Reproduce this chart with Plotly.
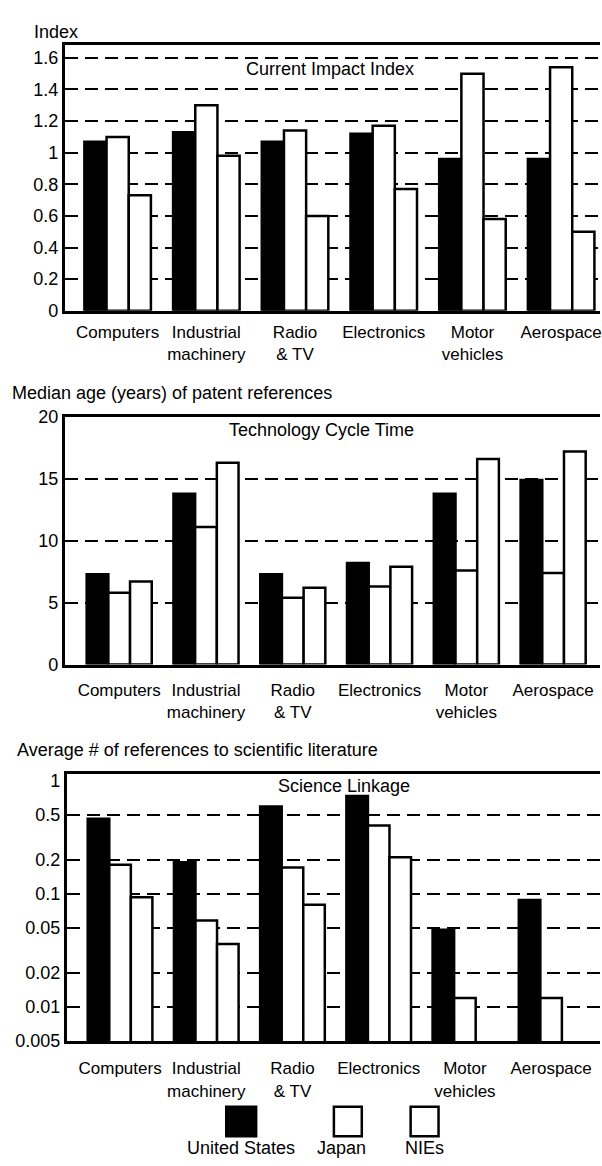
import math
import plotly.graph_objects as go

# ---- data -------------------------------------------------------------
categories = ["Computers", "Industrial machinery", "Radio & TV",
              "Electronics", "Motor vehicles", "Aerospace"]
category_labels = ["Computers", "Industrial<br>machinery", "Radio<br>& TV",
                   "Electronics", "Motor<br>vehicles", "Aerospace"]
series_names = ["United States", "Japan", "NIEs"]

# Current Impact Index
impact_us = [1.07, 1.13, 1.07, 1.12, 0.96, 0.96]
impact_japan = [1.10, 1.30, 1.14, 1.17, 1.50, 1.54]
impact_nies = [0.73, 0.98, 0.60, 0.77, 0.58, 0.50]

# Technology Cycle Time (median age in years of patent references)
cycle_us = [7.3, 13.8, 7.3, 8.2, 13.8, 14.9]
cycle_japan = [5.8, 11.1, 5.4, 6.3, 7.6, 7.4]
cycle_nies = [6.7, 16.3, 6.2, 7.9, 16.6, 17.2]

# Science Linkage (average number of references to scientific literature)
linkage_us = [0.46, 0.19, 0.59, 0.73, 0.048, 0.088]
linkage_japan = [0.18, 0.058, 0.17, 0.40, 0.012, 0.012]
linkage_nies = [0.093, 0.036, 0.08, 0.21, None, None]

impact_ticks = [0, 0.2, 0.4, 0.6, 0.8, 1, 1.2, 1.4, 1.6]
impact_ticktext = ["0", "0.2", "0.4", "0.6", "0.8", "1", "1.2", "1.4", "1.6"]
cycle_ticks = [0, 5, 10, 15, 20]
cycle_ticktext = ["0", "5", "10", "15", "20"]
linkage_ticks = [0.005, 0.01, 0.02, 0.05, 0.1, 0.2, 0.5, 1]
linkage_ticktext = ["0.005", "0.01", "0.02", "0.05", "0.1", "0.2", "0.5", "1"]

# ---- layout helpers -------------------------------------------------
W, H = 602, 1166
FONT = "Liberation Sans, Arial, Helvetica, sans-serif"


def px_x(x):
    return x / W


def px_y(y):
    return 1 - y / H


fills = ["black", "white", "white"]

fig = go.Figure()

panels = [
    ("x", "y", [impact_us, impact_japan, impact_nies]),
    ("x2", "y2", [cycle_us, cycle_japan, cycle_nies]),
    ("x3", "y3", [linkage_us, linkage_japan, linkage_nies]),
]
for xa, ya, values in panels:
    for name, vals, fill in zip(series_names, values, fills):
        fig.add_trace(go.Bar(
            x=categories, y=vals, name=name, xaxis=xa, yaxis=ya,
            marker=dict(color=fill, line=dict(color="black", width=2.5)),
            showlegend=False,
        ))

grid = dict(griddash="13px,7px", gridcolor="black", gridwidth=2)


def xaxis_cfg(domain_left, rng, anchor, ticklen):
    return dict(
        domain=[px_x(domain_left), 1], range=rng, anchor=anchor,
        type="category", tickmode="array", tickvals=categories,
        ticktext=category_labels, tickangle=0, ticks="outside", ticklen=ticklen,
        tickcolor="rgba(0,0,0,0)",
        tickfont=dict(family=FONT, size=17, color="black"),
        showline=True, linecolor="black", linewidth=3, mirror=True,
        showgrid=False, zeroline=False, fixedrange=True,
    )


def yaxis_cfg(top, bottom, rng, tickvals, ticktext, gridvals, anchor, log=False):
    cfg = dict(
        domain=[px_y(bottom), px_y(top)], range=rng, anchor=anchor,
        tickmode="array", tickvals=tickvals, ticktext=ticktext,
        ticks="", tickfont=dict(family=FONT, size=18, color="black"),
        showline=True, linecolor="black", linewidth=3, mirror=False,
        showgrid=False, zeroline=False, fixedrange=True,
        minor=dict(tickmode="array", tickvals=gridvals, showgrid=True,
                   ticks="", **grid),
    )
    if log:
        cfg["type"] = "log"
    return cfg


fig.update_layout(
    width=W, height=H,
    margin=dict(l=0, r=0, t=0, b=0),
    paper_bgcolor="white", plot_bgcolor="white",
    barmode="group", bargap=0.25, bargroupgap=0,
    font=dict(family=FONT, size=18, color="black"),
    xaxis=xaxis_cfg(65, [-0.596, 5.438], "y", 4),
    xaxis2=xaxis_cfg(65, [-0.627, 5.54], "y2", 8),
    xaxis3=xaxis_cfg(67, [-0.618, 5.567], "y3", 10),
    yaxis=yaxis_cfg(36, 306, [0, 1.679], impact_ticks, impact_ticktext,
                    impact_ticks[1:], "x"),
    yaxis2=yaxis_cfg(414, 666, [0, 20], cycle_ticks, cycle_ticktext,
                     cycle_ticks[1:-1], "x2"),
    yaxis3=yaxis_cfg(777, 1049, [math.log10(0.005), 0.06], linkage_ticks,
                     linkage_ticktext, linkage_ticks[1:-1], "x3", log=True),
)

# ---- titles and panel captions -------------------------------------
texts = [
    ("Index", 32, 22, "left"),
    ("Current Impact Index", 331, 60, "center"),
    ("Median age (years) of patent references", 10, 390, "left"),
    ("Technology Cycle Time", 323, 427, "center"),
    ("Average # of references to scientific literature", 15, 753, "left"),
    ("Science Linkage", 345, 790, "center"),
]
for txt, x, y, anchor in texts:
    fig.add_annotation(
        text=txt, x=px_x(x), y=px_y(y), xref="paper", yref="paper",
        xanchor=anchor, yanchor="middle", showarrow=False,
        font=dict(family=FONT, size=18, color="black"),
    )

# ---- legend: swatches with labels beneath --------------------------
legend_boxes = [(227, 257), (335, 363), (412, 440)]
legend_centers = [242, 343, 426]
for (x0, x1), fill, name, cx in zip(legend_boxes, fills, series_names, legend_centers):
    fig.add_shape(
        type="rect", xref="paper", yref="paper",
        x0=px_x(x0), x1=px_x(x1), y0=px_y(1146), y1=px_y(1116),
        fillcolor=fill, line=dict(color="black", width=2.5),
    )
    fig.add_annotation(
        text=name, x=px_x(cx), y=px_y(1158), xref="paper", yref="paper",
        xanchor="center", yanchor="middle", showarrow=False,
        font=dict(family=FONT, size=18, color="black"),
    )

fig.write_html("out.html")
